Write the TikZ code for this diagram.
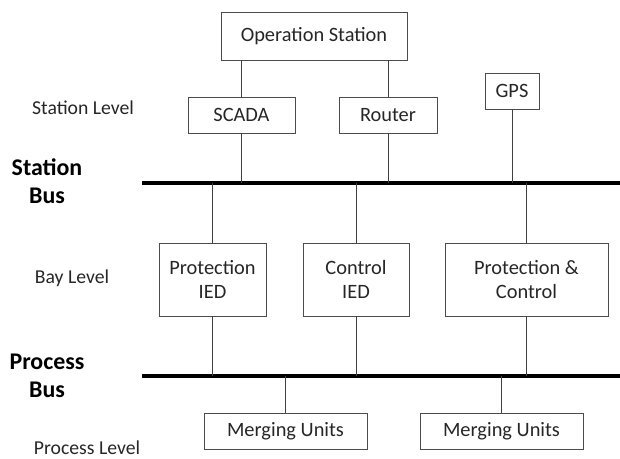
\documentclass[tikz,border=0pt]{standalone}
\usepackage{fontspec}
\setmainfont{Carlito}
\usepackage{xcolor}

\begin{document}
\begin{tikzpicture}[x=0.025cm,y=-0.025cm,
    box/.style={draw=black!70,line width=0.5pt,inner sep=0pt,align=center,
	font=\fontsize{14.5}{17}\selectfont,text=black!85},
    level/.style={font=\fontsize{14}{17}\selectfont,text=black!85},
    buslabel/.style={font=\fontsize{17}{20}\selectfont\bfseries,align=center},
    link/.style={draw=black!75,line width=0.6pt},
    bus/.style={draw=black,line width=2.6pt}]
\useasboundingbox (0,0) rectangle (620,459);

% station level
\path
    (314,36) node [box,minimum width=186*0.025cm,minimum height=48*0.025cm] (ops)
	{Operation Station}
    (241.5,115) node [box,minimum width=107*0.025cm,minimum height=36*0.025cm] (scada) {SCADA}
    (388,115) node [box,minimum width=98*0.025cm,minimum height=36*0.025cm] (router) {Router}
    (512,91) node [box,minimum width=54*0.025cm,minimum height=36*0.025cm] (gps) {GPS};
\path
    (83,108) node [level] (stlevel) {Station Level}
    (47,181) node [buslabel] (stbus) {Station\\ Bus};

% bay level
\path
    (212.5,279.5) node [box,minimum width=107*0.025cm,minimum height=73*0.025cm] (protied)
	{Protection\\ IED}
    (356,279.5) node [box,minimum width=106*0.025cm,minimum height=73*0.025cm] (ctrlied)
	{Control\\ IED}
    (526.5,279.5) node [box,minimum width=163*0.025cm,minimum height=73*0.025cm] (protctrl)
	{Protection \&\\ Control};
\path
    (72,278) node [level] (baylevel) {Bay Level}
    (47,376) node [buslabel] (prbus) {Process\\ Bus};

% process level
\path
    (285.5,431) node [box,minimum width=163*0.025cm,minimum height=36*0.025cm] (mu1)
	{Merging Units}
    (501.5,431) node [box,minimum width=163*0.025cm,minimum height=36*0.025cm] (mu2)
	{Merging Units}
    (87,448) node [level] (prlevel) {Process Level};

% the two buses
\path
    (142,183) coordinate (sbw)
    (620,183) coordinate (sbe)
    (142,376) coordinate (pbw)
    (620,376) coordinate (pbe);
\draw [bus] (sbw) -- (sbe);
\draw [bus] (pbw) -- (pbe);

% links
\draw [link] (scada.north) -- (scada |- ops.south);
\draw [link] (router.north) -- (router |- ops.south);
\draw [link] (scada.south) -- (scada |- sbw);
\draw [link] (router.south) -- (router |- sbw);
\draw [link] (gps.south) -- (gps |- sbw);
\draw [link] (protied.north) -- (protied |- sbw);
\draw [link] (ctrlied.north) -- (ctrlied |- sbw);
\draw [link] (protctrl.north) -- (protctrl |- sbw);
\draw [link] (protied.south) -- (protied |- pbw);
\draw [link] (ctrlied.south) -- (ctrlied |- pbw);
\draw [link] (protctrl.south) -- (protctrl |- pbw);
\draw [link] (mu1.north) -- (mu1 |- pbw);
\draw [link] (mu2.north) -- (mu2 |- pbw);
\end{tikzpicture}
\end{document}
